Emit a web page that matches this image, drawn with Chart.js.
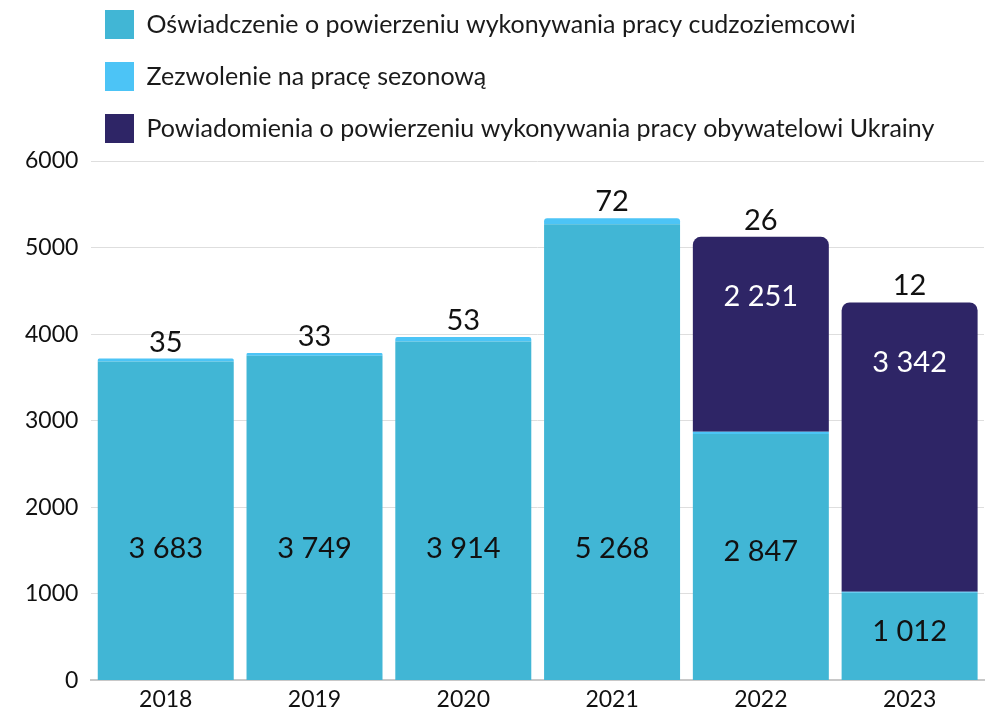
<!DOCTYPE html>
<html>
<head>
<meta charset="utf-8">
<script src="https://cdn.jsdelivr.net/npm/chart.js@4/dist/chart.umd.min.js"></script>
<style>
  html, body { margin: 0; padding: 0; background: #fff; }
  #wrap { width: 985px; height: 714px; position: relative; }
</style>
</head>
<body>
<div id="wrap"><canvas id="permitChart"></canvas></div>
<script>
// Permits for foreign workers by year

const years = ['2018', '2019', '2020', '2021', '2022', '2023'];
const declarations = [3683, 3749, 3914, 5268, 2847, 1012];
const seasonal = [35, 33, 53, 72, 26, 12];
const ukraineNotices = [0, 0, 0, 0, 2251, 3342];
const yTicks = [0, 1000, 2000, 3000, 4000, 5000, 6000];

const seriesNames = [
    'Oświadczenie o powierzeniu wykonywania pracy cudzoziemcowi',
    'Zezwolenie na pracę sezonową',
    'Powiadomienia o powierzeniu wykonywania pracy obywatelowi Ukrainy'
];

const FONT = 'Lato, "Noto Sans", sans-serif';

function fmt(v) {
    return String(v).replace(/\B(?=(\d{3})+(?!\d))/g, ' ');
}

// legend: a bit more room below it, boxes start at x=105
const legendTweak = {
    id: 'legendTweak',
    beforeLayout(chart) {
        const lg = chart.legend;
        if (lg && !lg._tweaked) {
            const origFit = lg.fit;
            lg.fit = function () {
                origFit.call(this);
                this.height += 8;
            };
            lg._tweaked = true;
        }
    },
    afterLayout(chart) {
        chart.legend.left = 82;
    }
};

// value labels: inside teal and navy segments, seasonal count above the stack
const valueLabels = {
    id: 'valueLabels',
    afterDatasetsDraw(chart) {
        const ctx = chart.ctx;
        const yScale = chart.scales.y;
        const tealMeta = chart.getDatasetMeta(0);
        const navyMeta = chart.getDatasetMeta(2);
        ctx.save();
        ctx.font = '29px ' + FONT;
        ctx.textAlign = 'center';

        tealMeta.data.forEach((bar, i) => {
            const y = Math.max(bar.base - 131, (bar.y + bar.base) / 2 - 5);
            ctx.fillStyle = '#111';
            ctx.textBaseline = 'middle';
            ctx.fillText(fmt(declarations[i]), bar.x, y);
        });

        navyMeta.data.forEach((bar, i) => {
            if (!ukraineNotices[i]) return;
            ctx.fillStyle = '#fff';
            ctx.textBaseline = 'middle';
            ctx.fillText(fmt(ukraineNotices[i]), bar.x, bar.y + 60);
        });

        tealMeta.data.forEach((bar, i) => {
            const total = declarations[i] + seasonal[i] + ukraineNotices[i];
            const top = yScale.getPixelForValue(total);
            ctx.fillStyle = '#111';
            ctx.textBaseline = 'alphabetic';
            ctx.fillText(fmt(seasonal[i]), bar.x, top - 7);
        });
        ctx.restore();
    }
};

const permitCtx = document.getElementById('permitChart');
new Chart(permitCtx, {
    type: 'bar',
    data: {
        labels: years,
        datasets: [{
            label: seriesNames[0],
            data: declarations,
            backgroundColor: '#41b6d5',
            borderWidth: 0,
            borderRadius: 0
        }, {
            label: seriesNames[1],
            data: seasonal,
            backgroundColor: '#4cc4f6',
            borderWidth: 0,
            borderRadius: 8
        }, {
            label: seriesNames[2],
            data: ukraineNotices,
            backgroundColor: '#2e2566',
            borderWidth: 0,
            borderRadius: 8
        }]
    },
    options: {
        responsive: true,
        maintainAspectRatio: false,
        animation: false,
        layout: {
            padding: { top: -13, left: 12, right: 1, bottom: -4 }
        },
        datasets: {
            bar: {
                barPercentage: 0.914,
                categoryPercentage: 1,
                inflateAmount: 0
            }
        },
        plugins: {
            legend: {
                position: 'top',
                align: 'start',
                fullSize: false,
                labels: {
                    boxWidth: 29,
                    boxHeight: 29,
                    padding: 23,
                    color: '#1a1a1a',
                    font: { family: FONT, size: 25 }
                }
            },
            tooltip: { enabled: false }
        },
        scales: {
            x: {
                stacked: true,
                grid: { display: false, drawTicks: false },
                border: { display: true, color: '#c8c8c8', width: 2 },
                ticks: {
                    color: '#111',
                    padding: 5,
                    font: { family: FONT, size: 23 }
                }
            },
            y: {
                stacked: true,
                min: yTicks[0],
                max: yTicks[yTicks.length - 1],
                afterBuildTicks: (axis) => {
                    axis.ticks = yTicks.map(v => ({ value: v }));
                },
                grid: {
                    color: '#dedede',
                    lineWidth: 1,
                    drawTicks: false
                },
                border: { display: false },
                ticks: {
                    color: '#111',
                    padding: 13,
                    font: { family: FONT, size: 23 },
                    callback: (v) => String(v)
                }
            }
        }
    },
    plugins: [legendTweak, valueLabels]
});
</script>
</body>
</html>
